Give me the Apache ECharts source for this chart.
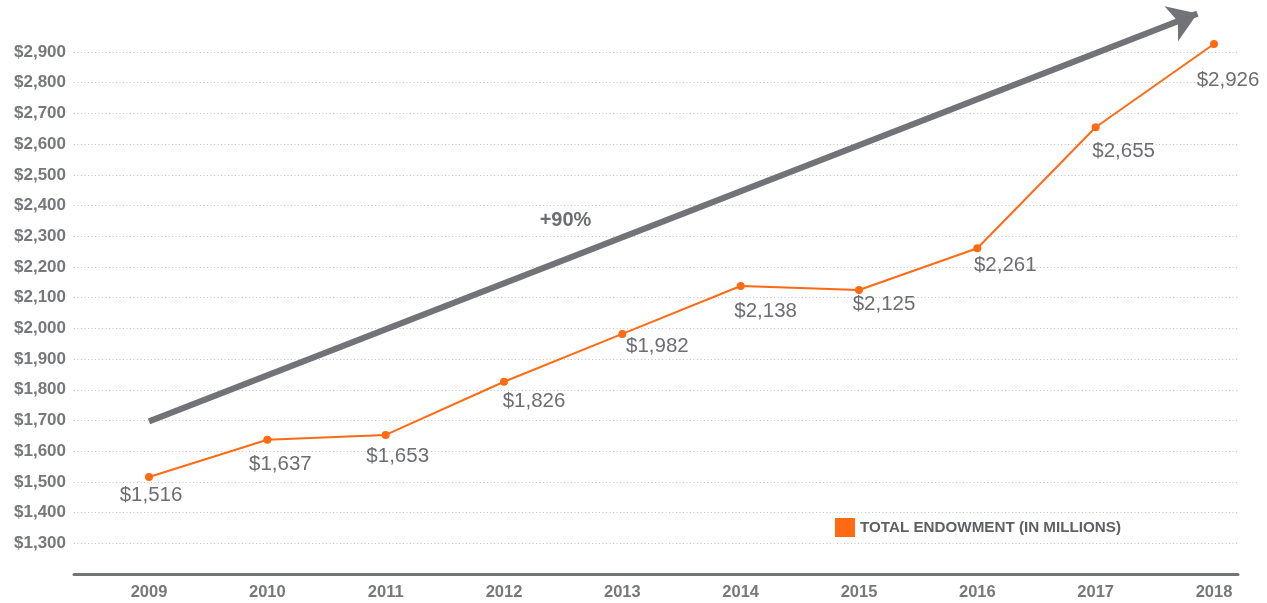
<!DOCTYPE html>
<html>
<head>
<meta charset="utf-8">
<script src="https://cdn.jsdelivr.net/npm/echarts@6/dist/echarts.min.js"></script>
<style>
html,body{margin:0;padding:0;background:#fff;}
#chart{width:1267px;height:603px;}
</style>
</head>
<body>
<div id="chart"></div>
<script>
// ---- data ----
const years = [2009, 2010, 2011, 2012, 2013, 2014, 2015, 2016, 2017, 2018];
const endowment = [1516, 1637, 1653, 1826, 1982, 2138, 2125, 2261, 2655, 2926];
const seriesName = 'TOTAL ENDOWMENT (IN MILLIONS)';
const yTicks = [1300, 1400, 1500, 1600, 1700, 1800, 1900, 2000, 2100, 2200, 2300, 2400, 2500, 2600, 2700, 2800, 2900];
const trendStart = [2009, 1697];
const trendEnd = [2017.86, 3025];
const trendLabel = '+90%';
const trendLabelAt = [2012.52, 2352];

// ---- label nudges (styling) ----
const labelNudge = [[2, 18], [13, 25], [12, 21], [30, 20], [35, 12], [25, 25], [25, 14], [28, 17], [28, 24], [14, 36]];

const FONT = '"Liberation Sans", Arial, Helvetica, sans-serif';
const ORANGE = '#ff6a13';
const GREY = '#6d6e71';

const chart = echarts.init(document.getElementById('chart'), null, {renderer: 'canvas'});

const fmtMoney = v => '$' + Number(v).toLocaleString('en-US');

const lineData = years.map((y, i) => ({
  value: [y, endowment[i]],
  label: {offset: labelNudge[i]}
}));

const option = {
  animation: false,
  backgroundColor: '#ffffff',
  grid: {left: 74, right: 29, top: 52, bottom: 29, containLabel: false},
  legend: {
    left: 835, top: 518,
    padding: 0,
    data: [seriesName],
    icon: 'rect',
    itemWidth: 20, itemHeight: 19,
    textStyle: {fontFamily: FONT, fontWeight: 'bold', fontSize: 15.2, color: '#5f6065'},
    selectedMode: false
  },
  xAxis: {
    type: 'value',
    min: 2008.366,
    max: 2018.203,
    axisLine: {show: true, onZero: false, lineStyle: {color: '#737477', width: 3}},
    axisTick: {show: false},
    splitLine: {show: false},
    axisLabel: {
      customValues: years,
      formatter: v => String(v),
      margin: 10,
      fontFamily: FONT, fontWeight: 'bold', fontSize: 16.5, color: '#77787b'
    }
  },
  yAxis: {
    type: 'value',
    min: 1200, max: 2900, interval: 100,
    axisLine: {show: false},
    axisTick: {show: false},
    splitLine: {show: true, lineStyle: {color: '#c4c4c4', width: 1, type: [1, 2.5]}},
    axisLabel: {
      customValues: yTicks,
      formatter: fmtMoney,
      margin: 8,
      fontFamily: FONT, fontWeight: 'bold', fontSize: 17, color: '#77787b'
    }
  },
  series: [{
    name: 'trend',
    type: 'lines',
    coordinateSystem: 'cartesian2d',
    clip: false,
    silent: true,
    z: 1,
    symbol: ['none', 'arrow'],
    symbolSize: [15, 28],
    lineStyle: {color: '#727376', width: 6, opacity: 1, curveness: 0},
    effect: {show: false},
    data: [{coords: [trendStart, trendEnd]}]
  }, {
    name: seriesName,
    type: 'line',
    clip: false,
    z: 3,
    data: lineData,
    symbol: 'circle',
    symbolSize: 8,
    lineStyle: {color: ORANGE, width: 2},
    itemStyle: {color: ORANGE},
    label: {
      show: true,
      position: 'inside',
      align: 'center',
      verticalAlign: 'middle',
      formatter: p => fmtMoney(p.value[1]),
      fontFamily: FONT, fontSize: 20.5, color: GREY
    },
    emphasis: {disabled: true},
    markPoint: {
      silent: true,
      symbol: 'circle',
      symbolSize: 1,
      itemStyle: {color: 'rgba(0,0,0,0)'},
      label: {
        show: true, position: 'inside',
        formatter: trendLabel,
        fontFamily: FONT, fontWeight: 'bold', fontSize: 20, color: GREY
      },
      data: [{coord: trendLabelAt}]
    }
  }]
};

chart.setOption(option);
</script>
</body>
</html>
